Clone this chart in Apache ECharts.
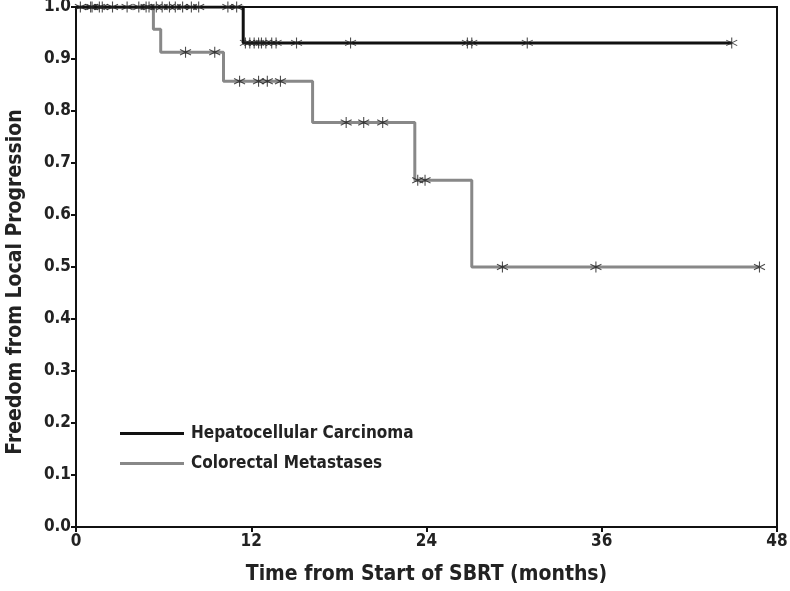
<!DOCTYPE html>
<html>
<head>
<meta charset="utf-8">
<script src="https://cdn.jsdelivr.net/npm/echarts@6/dist/echarts.min.js"></script>
<style>html,body{margin:0;padding:0;background:#fff}#c{width:790px;height:591px}</style>
</head>
<body>
<div id="c"></div>
<script>
// Kaplan-Meier step points: event times (months) and survival after the event
const hccTimes = [0, 11.45];
const hccSurv = [1.0, 0.931];
const hccCensor = [0.3, 1.1, 1.6, 2.5, 4.3, 5.0, 5.5, 5.9, 6.4, 6.8, 7.3, 7.9, 8.4, 10.4, 11.0,
  11.6, 11.9, 12.2, 12.5, 12.7, 13.0, 13.4, 13.7, 15.1, 18.8, 26.8, 27.1, 30.9, 44.9];

const crcTimes = [0, 5.3, 5.8, 10.1, 16.2, 23.2, 27.1];
const crcSurv = [1.0, 0.957, 0.913, 0.857, 0.778, 0.667, 0.5];
const crcCensor = [1.0, 1.8, 3.5, 4.8, 7.5, 9.5, 11.2, 12.5, 13.1, 14.0, 18.5, 19.7, 21.0, 23.4, 23.9, 29.2, 35.6, 46.8];

const xTicks = [0, 12, 24, 36, 48];
const yTicks = [0, 0.1, 0.2, 0.3, 0.4, 0.5, 0.6, 0.7, 0.8, 0.9, 1.0];
const seriesNames = ['Hepatocellular Carcinoma', 'Colorectal Metastases'];

function survAt(times, surv, t) {
  let s = surv[0];
  for (let i = 0; i < times.length; i++) if (times[i] <= t) s = surv[i];
  return s;
}
function stepData(times, surv, censor) {
  const d = times.map((t, i) => [t, surv[i]]);
  const last = Math.max(...censor);
  d.push([last, survAt(times, surv, last)]);
  return d;
}
function censorData(times, surv, censor) {
  return censor.map(t => [t, survAt(times, surv, t)]);
}

const font = "'Liberation Sans Narrow','DejaVu Sans Condensed','Liberation Sans',sans-serif";
const star = 'path://M5,0 L5,10 M0.7,2.5 L9.3,7.5 M0.7,7.5 L9.3,2.5';

const chart = echarts.init(document.getElementById('c'), null, {renderer: 'canvas'});
chart.setOption({
  animation: false,
  backgroundColor: '#fff',
  grid: {left: 76, right: 13, top: 7, bottom: 64, containLabel: false, outerBoundsMode: 'none',
    show: true, borderColor: '#111', borderWidth: 2},
  legend: {
    data: seriesNames, orient: 'vertical', left: 115, top: 420, icon: 'rect', itemWidth: 64, itemHeight: 3, itemGap: 13,
    textStyle: {fontFamily: font, fontSize: 17, fontWeight: 'bold', color: '#222', padding: [0, 0, 0, 2]}
  },
  xAxis: {
    type: 'value', min: xTicks[0], max: xTicks[xTicks.length - 1], interval: 12,
    name: 'Time from Start of SBRT (months)', nameLocation: 'middle', nameGap: 37,
    nameTextStyle: {fontFamily: font, fontSize: 21, fontWeight: 'bold', color: '#222'},
    axisLine: {lineStyle: {color: '#111', width: 2}},
    axisTick: {length: 5, lineStyle: {color: '#111', width: 2}},
    axisLabel: {fontFamily: font, fontSize: 17, fontWeight: 'bold', color: '#222', margin: 6},
    splitLine: {show: false}
  },
  yAxis: {
    type: 'value', min: yTicks[0], max: yTicks[yTicks.length - 1], interval: 0.1,
    name: 'Freedom from Local Progression', nameLocation: 'middle', nameGap: 50,
    nameTextStyle: {fontFamily: font, fontSize: 21, fontWeight: 'bold', color: '#222', padding: [0, 30, 0, 0]},
    axisLine: {lineStyle: {color: '#111', width: 2}},
    axisTick: {length: 5, lineStyle: {color: '#111', width: 2}},
    axisLabel: {fontFamily: font, fontSize: 17, fontWeight: 'bold', color: '#222', margin: 5,
      formatter: v => v.toFixed(1)},
    splitLine: {show: false}
  },
  series: [
    {name: seriesNames[1], type: 'line', step: 'end', symbol: 'none', z: 2,
     lineStyle: {color: '#888', width: 3}, itemStyle: {color: '#888'},
     data: stepData(crcTimes, crcSurv, crcCensor)},
    {name: seriesNames[0], type: 'line', step: 'end', symbol: 'none', z: 3,
     lineStyle: {color: '#111', width: 3}, itemStyle: {color: '#111'},
     data: stepData(hccTimes, hccSurv, hccCensor)},
    {type: 'scatter', symbol: star, symbolSize: 11, z: 4, silent: true,
     itemStyle: {color: 'none', borderColor: '#222', borderWidth: 1.1},
     data: censorData(crcTimes, crcSurv, crcCensor)},
    {type: 'scatter', symbol: star, symbolSize: 11, z: 4, silent: true,
     itemStyle: {color: 'none', borderColor: '#222', borderWidth: 1.1},
     data: censorData(hccTimes, hccSurv, hccCensor)}
  ]
});
</script>
</body>
</html>
